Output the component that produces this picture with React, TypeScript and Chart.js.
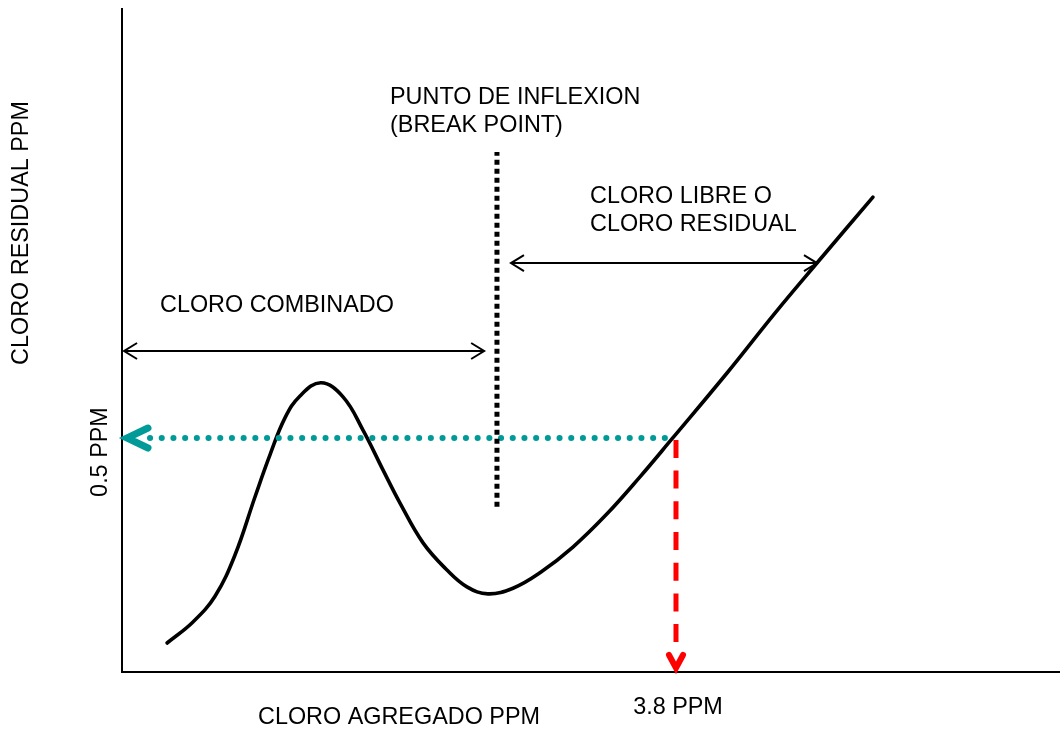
import React, { useEffect, useRef } from "react";
import { Chart, registerables } from "chart.js";

Chart.register(...registerables);

// Break-point chlorination curve (x: chlorine added, y: residual chlorine), in chart units
const curveX = [0.309, 0.487, 0.638, 0.775, 0.912, 1.015, 1.118, 1.221, 1.365, 1.516, 1.653, 1.79, 1.907, 2.065, 2.229, 2.366, 2.51, 2.682, 2.867, 3.093, 3.327, 3.553, 3.772, 4.15, 4.479, 4.767, 5.151];
const curveY = [0.062, 0.107, 0.162, 0.25, 0.374, 0.464, 0.543, 0.59, 0.618, 0.588, 0.517, 0.432, 0.361, 0.276, 0.218, 0.182, 0.167, 0.179, 0.212, 0.267, 0.338, 0.417, 0.498, 0.639, 0.767, 0.874, 1.015];

// Reference values
const residualPPM = 0.5;
const addedPPM = 3.8;
const breakPointX = 2.572;
const breakPointYRange = [0.353, 1.111];
const tealStartX = 0.192;
const tealEndX = 3.745;
const redYRange = [0.058, 0.496];
const combinadoArrow = { y: 0.686, x0: 0.014, x1: 2.484 };
const libreArrow = { y: 0.874, x0: 2.668, x1: 4.767 };

// Axis ranges
const xMax = 6.434;
const yMax = 1.419;

// Labels
const xAxisTitle = "CLORO AGREGADO PPM";
const yAxisTitle = "CLORO RESIDUAL PPM";
const xMarkLabel = "3.8 PPM";
const yMarkLabel = "0.5 PPM";
const breakLabel = ["PUNTO DE INFLEXION", "(BREAK POINT)"];
const libreLabel = ["CLORO LIBRE O", "CLORO RESIDUAL"];
const combinadoLabel = "CLORO COMBINADO";

const TEAL = "#009b98";
const RED = "#ff0000";
const FONT = '23.4px "Liberation Sans", Arial, sans-serif';

const overlay = {
  id: "overlay",
  afterDatasetsDraw(chart: any) {
    const { ctx, chartArea, scales } = chart;
    const xs = scales.x;
    const ys = scales.y;
    const px = (v: number) => xs.getPixelForValue(v);
    const py = (v: number) => ys.getPixelForValue(v);
    ctx.save();

    // axes
    ctx.strokeStyle = "#000";
    ctx.lineWidth = 2;
    ctx.beginPath();
    ctx.moveTo(chartArea.left, chartArea.top);
    ctx.lineTo(chartArea.left, chartArea.bottom);
    ctx.lineTo(chartArea.right, chartArea.bottom);
    ctx.stroke();

    // open arrowheads for the bracket arrows
    const openHead = (x: number, y: number, dir: number) => {
      ctx.beginPath();
      ctx.moveTo(x - dir * 13, y - 8);
      ctx.lineTo(x, y);
      ctx.lineTo(x - dir * 13, y + 8);
      ctx.stroke();
    };
    ctx.lineWidth = 2;
    ctx.strokeStyle = "#000";
    openHead(px(combinadoArrow.x0), py(combinadoArrow.y), -1);
    openHead(px(combinadoArrow.x1), py(combinadoArrow.y), 1);
    openHead(px(libreArrow.x0), py(libreArrow.y), -1);
    openHead(px(libreArrow.x1), py(libreArrow.y), 1);

    // teal chevron at y axis
    ctx.strokeStyle = TEAL;
    ctx.lineWidth = 7;
    ctx.lineCap = "round";
    ctx.lineJoin = "miter";
    const tx = px(0) + 5;
    const ty = py(residualPPM);
    ctx.beginPath();
    ctx.moveTo(tx + 21, ty - 10);
    ctx.lineTo(tx, ty);
    ctx.lineTo(tx + 21, ty + 10);
    ctx.stroke();

    // red chevron at x axis
    ctx.strokeStyle = RED;
    ctx.lineWidth = 6;
    const rx = px(addedPPM);
    const ry = py(0) - 4;
    ctx.beginPath();
    ctx.moveTo(rx - 7, ry - 13);
    ctx.lineTo(rx, ry);
    ctx.lineTo(rx + 7, ry - 13);
    ctx.stroke();

    // texts
    ctx.fillStyle = "#000";
    ctx.font = FONT;
    ctx.textBaseline = "middle";
    ctx.textAlign = "left";
    ctx.fillText(breakLabel[0], 390, 98);
    ctx.fillText(breakLabel[1], 390, 126);
    ctx.fillText(libreLabel[0], 590, 197);
    ctx.fillText(libreLabel[1], 590, 225);
    ctx.fillText(combinadoLabel, 160, 306);
    ctx.fillText(xAxisTitle, 258, 718);
    ctx.textAlign = "center";
    ctx.fillText(xMarkLabel, px(addedPPM) + 2, 708);

    ctx.save();
    ctx.translate(101, py(residualPPM) + 14);
    ctx.rotate(-Math.PI / 2);
    ctx.fillText(yMarkLabel, 0, 0);
    ctx.restore();

    ctx.save();
    ctx.translate(22, 233);
    ctx.rotate(-Math.PI / 2);
    ctx.fillText(yAxisTitle, 0, 0);
    ctx.restore();

    ctx.restore();
  },
};

export default function App() {
  const ref = useRef<HTMLCanvasElement | null>(null);

  useEffect(() => {
    if (!ref.current) return;
    const pts = (xs: number[], ys: number[]) => xs.map((x, i) => ({ x, y: ys[i] }));
    const chart = new Chart(ref.current, {
      type: "line",
      data: {
        datasets: [
          {
            data: [
              { x: breakPointX, y: breakPointYRange[0] },
              { x: breakPointX, y: breakPointYRange[1] },
            ],
            borderColor: "#000",
            borderWidth: 5,
            borderDash: [5, 4],
            borderCapStyle: "butt",
            pointRadius: 0,
          },
          {
            data: [
              { x: tealStartX, y: residualPPM },
              { x: tealEndX, y: residualPPM },
            ],
            borderColor: TEAL,
            borderWidth: 6,
            borderDash: [0.1, 11.6],
            borderCapStyle: "round",
            pointRadius: 0,
          },
          {
            data: [
              { x: addedPPM, y: redYRange[1] },
              { x: addedPPM, y: redYRange[0] },
            ],
            borderColor: RED,
            borderWidth: 5,
            borderDash: [18, 12.7],
            borderCapStyle: "butt",
            pointRadius: 0,
          },
          {
            data: [
              { x: combinadoArrow.x0, y: combinadoArrow.y },
              { x: combinadoArrow.x1, y: combinadoArrow.y },
            ],
            borderColor: "#000",
            borderWidth: 2,
            pointRadius: 0,
          },
          {
            data: [
              { x: libreArrow.x0, y: libreArrow.y },
              { x: libreArrow.x1, y: libreArrow.y },
            ],
            borderColor: "#000",
            borderWidth: 2,
            pointRadius: 0,
          },
          {
            data: pts(curveX, curveY),
            borderColor: "#000",
            borderWidth: 3.6,
            tension: 0.4,
            borderCapStyle: "round",
            borderJoinStyle: "round",
            pointRadius: 0,
          },
        ],
      },
      options: {
        responsive: false,
        animation: false,
        layout: { padding: { left: 122, top: 8, right: 0, bottom: 57 } },
        plugins: { legend: { display: false }, tooltip: { enabled: false }, title: { display: false } },
        scales: {
          x: { type: "linear", min: 0, max: xMax, display: false },
          y: { type: "linear", min: 0, max: yMax, display: false },
        },
      },
      plugins: [overlay],
    } as any);
    return () => chart.destroy();
  }, []);

  return (
    <div style={{ position: "fixed", left: 0, top: 0, width: 1060, height: 729, background: "#fff" }}>
      <canvas ref={ref} width={1060} height={729} style={{ width: 1060, height: 729, display: "block" }} />
    </div>
  );
}
